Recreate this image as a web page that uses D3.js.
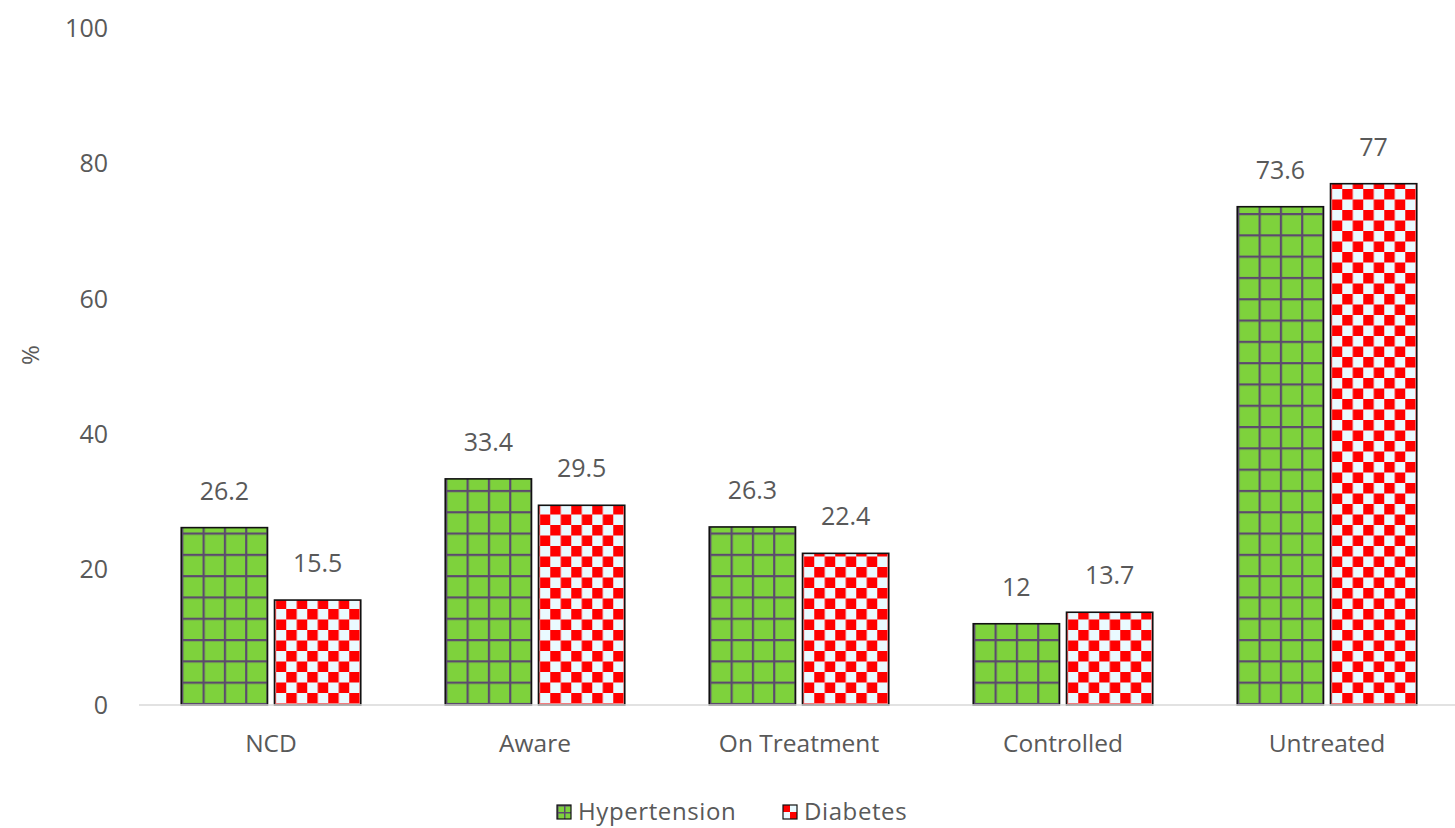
<!DOCTYPE html>
<html>
<head>
<meta charset="utf-8">
<script src="https://cdn.jsdelivr.net/npm/d3@7"></script>
<style>
  body { margin: 0; background: #fff; }
  text { font-family: "Open Sans", "DejaVu Sans", sans-serif; fill: #595959; }
</style>
</head>
<body>
<div id="chart"></div>
<script>
'use strict';

const categories = ["NCD", "Aware", "On Treatment", "Controlled", "Untreated"];
const seriesNames = ["Hypertension", "Diabetes"];
const hypertension = [26.2, 33.4, 26.3, 12, 73.6];
const diabetes = [15.5, 29.5, 22.4, 13.7, 77];
const yTicks = [0, 20, 40, 60, 80, 100];

const width = 1455, height = 828;
const margin = {top: 28, right: 0, bottom: 123, left: 139};

let svg = d3.select("#chart").append("svg")
    .attr("width", width)
    .attr("height", height);

let defs = svg.append("defs");

// green with purple grid
let gp = defs.append("pattern")
    .attr("id", "grid-green")
    .attr("patternUnits", "userSpaceOnUse")
    .attr("width", 21.3).attr("height", 21.3);
gp.append("rect").attr("width", 21.3).attr("height", 21.3).attr("fill", "#7ed23c");
gp.append("rect").attr("x", 0).attr("y", 0).attr("width", 2.2).attr("height", 21.3).attr("fill", "#5c4a6e");
gp.append("rect").attr("x", 0).attr("y", 0).attr("width", 21.3).attr("height", 2.2).attr("fill", "#5c4a6e");

// red checkerboard
let cp = defs.append("pattern")
    .attr("id", "check-red")
    .attr("patternUnits", "userSpaceOnUse")
    .attr("width", 21).attr("height", 21);
cp.append("rect").attr("width", 21).attr("height", 21).attr("fill", "#eafaff");
cp.append("rect").attr("x", 0).attr("y", 0).attr("width", 10.5).attr("height", 10.5).attr("fill", "#ff0000");
cp.append("rect").attr("x", 10.5).attr("y", 10.5).attr("width", 10.5).attr("height", 10.5).attr("fill", "#ff0000");

// small legend versions
let lg = defs.append("pattern")
    .attr("id", "leg-green")
    .attr("patternUnits", "userSpaceOnUse")
    .attr("width", 7).attr("height", 7);
lg.append("rect").attr("width", 7).attr("height", 7).attr("fill", "#7ed23c");
lg.append("rect").attr("width", 1.5).attr("height", 7).attr("fill", "#5c4a6e");
lg.append("rect").attr("width", 7).attr("height", 1.5).attr("fill", "#5c4a6e");

let lr = defs.append("pattern")
    .attr("id", "leg-red")
    .attr("patternUnits", "userSpaceOnUse")
    .attr("width", 14).attr("height", 14);
lr.append("rect").attr("width", 14).attr("height", 14).attr("fill", "#eafaff");
lr.append("rect").attr("width", 7).attr("height", 7).attr("fill", "#ff0000");
lr.append("rect").attr("x", 7).attr("y", 7).attr("width", 7).attr("height", 7).attr("fill", "#ff0000");

const fills = ["url(#grid-green)", "url(#check-red)"];
const legendFills = ["url(#leg-green)", "url(#leg-red)"];

let x = d3.scaleBand()
    .domain(categories)
    .range([margin.left, width - margin.right + 4])
    .paddingInner(0.32)
    .paddingOuter(0.16);

let xs = d3.scaleBand()
    .domain(seriesNames)
    .range([0, x.bandwidth()])
    .paddingInner(0.075);

let y = d3.scaleLinear()
    .domain([0, 100])
    .range([height - margin.bottom, margin.top]);

// y tick labels (no gridlines)
svg.append("g")
    .selectAll("text")
    .data(yTicks)
    .join("text")
    .attr("x", 108)
    .attr("y", d => y(d))
    .attr("dy", "0.35em")
    .attr("text-anchor", "end")
    .style("font-size", "25px")
    .text(d => d);

// y axis title
svg.append("text")
    .attr("transform", `translate(39,355) rotate(-90)`)
    .attr("text-anchor", "middle")
    .style("font-size", "24px")
    .text("%");

// bars
let rows = categories.map((c, i) => ({cat: c, vals: [hypertension[i], diabetes[i]]}));

let groups = svg.selectAll(".cat")
    .data(rows)
    .join("g")
    .attr("class", "cat")
    .attr("transform", d => `translate(${x(d.cat)},0)`);

groups.selectAll("rect")
    .data(d => d.vals.map((v, j) => ({name: seriesNames[j], v: v, j: j})))
    .join("rect")
    .attr("x", d => xs(d.name))
    .attr("y", d => y(d.v))
    .attr("width", xs.bandwidth())
    .attr("height", d => y(0) - y(d.v))
    .attr("fill", d => fills[d.j])
    .attr("stroke", "#111")
    .attr("stroke-width", 1.6);

groups.selectAll("text.val")
    .data(d => d.vals.map((v, j) => ({name: seriesNames[j], v: v})))
    .join("text")
    .attr("class", "val")
    .attr("x", d => xs(d.name) + xs.bandwidth() / 2)
    .attr("y", d => y(d.v) - 28)
    .attr("text-anchor", "middle")
    .style("font-size", "25px")
    .text(d => d.v);

// x axis line
svg.append("line")
    .attr("x1", margin.left).attr("x2", width - margin.right)
    .attr("y1", y(0)).attr("y2", y(0))
    .attr("stroke", "#d9d9d9")
    .attr("stroke-width", 1.5);

// category labels
svg.append("g")
    .selectAll("text")
    .data(categories)
    .join("text")
    .attr("x", d => x(d) + x.bandwidth() / 2)
    .attr("y", 752)
    .attr("text-anchor", "middle")
    .style("font-size", "24.5px")
    .text(d => d);

// legend
let legendX = [557, 783];
let legend = svg.append("g")
    .selectAll("g")
    .data(seriesNames)
    .join("g")
    .attr("transform", (d, i) => `translate(${legendX[i]},805)`);

legend.append("rect")
    .attr("width", 14).attr("height", 14)
    .attr("fill", (d, i) => legendFills[i])
    .attr("stroke", "#111")
    .attr("stroke-width", 1.2);

legend.append("text")
    .attr("x", 21)
    .attr("y", 7)
    .attr("dy", "0.35em")
    .style("font-size", "24px")
    .style("letter-spacing", "0.6px")
    .text(d => d);
</script>
</body>
</html>
